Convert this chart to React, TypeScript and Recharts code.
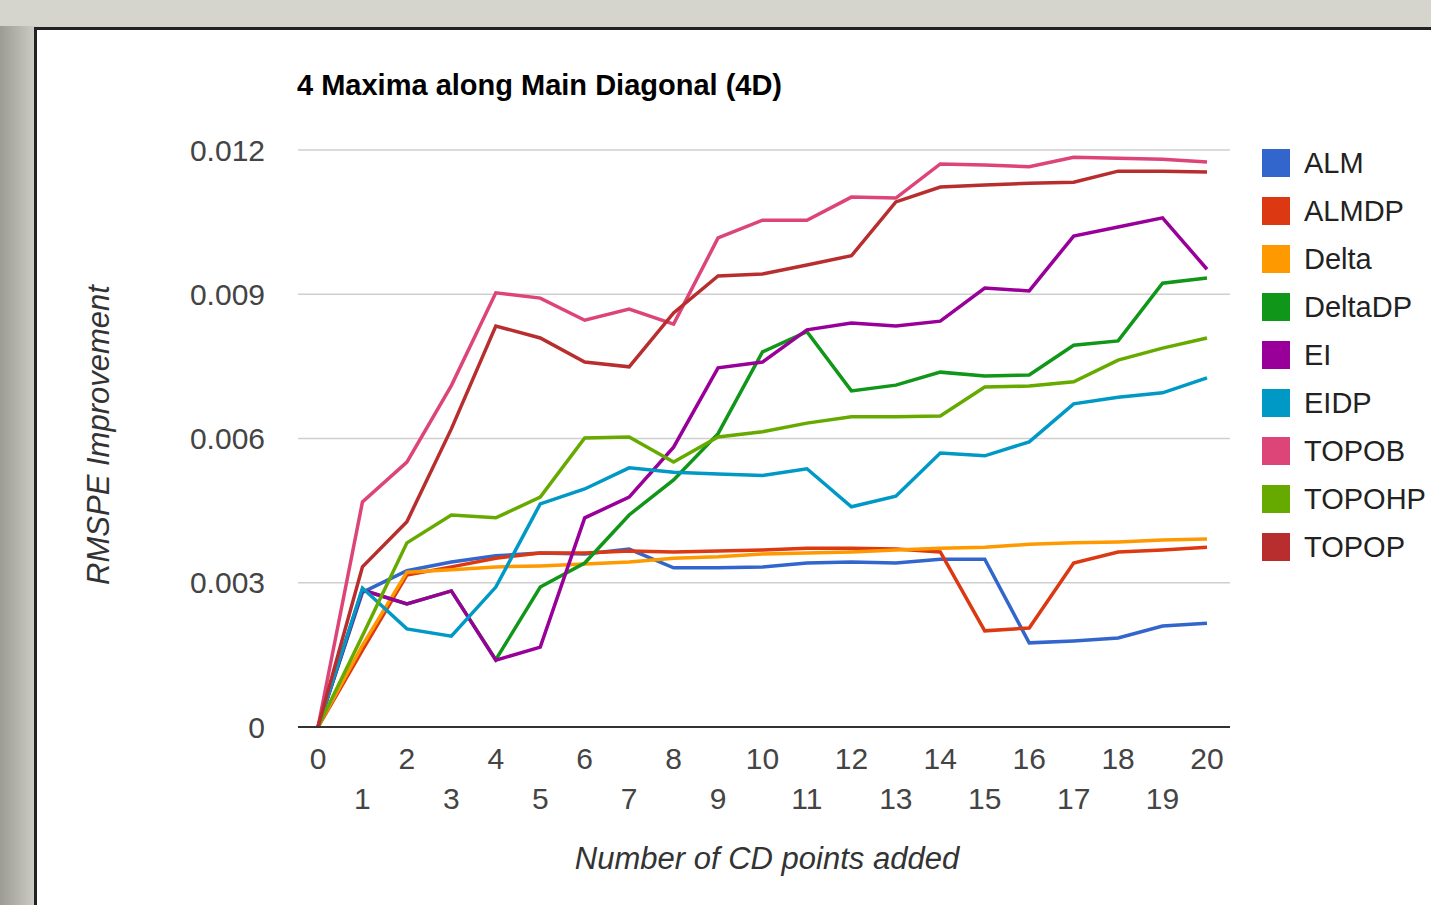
import React from "react";
import { CartesianGrid, Label, Line, LineChart, XAxis, YAxis } from "recharts";

const FONT = '"Liberation Sans", Arial, sans-serif';

const xValues = [0, 1, 2, 3, 4, 5, 6, 7, 8, 9, 10, 11, 12, 13, 14, 15, 16, 17, 18, 19, 20];
const yTicks = [0, 0.003, 0.006, 0.009, 0.012];

const ALM = [0, 0.0028, 0.00325, 0.00343, 0.00356, 0.00362, 0.0036, 0.0037, 0.00331, 0.00331, 0.00333, 0.00341, 0.00343, 0.00341, 0.00349, 0.00349, 0.00175, 0.00179, 0.00185, 0.0021, 0.00216];
const ALMDP = [0, 0.0016, 0.00316, 0.00333, 0.00351, 0.00362, 0.00362, 0.00366, 0.00364, 0.00366, 0.00368, 0.00372, 0.00372, 0.0037, 0.00364, 0.002, 0.00206, 0.00341, 0.00364, 0.00368, 0.00374];
const Delta = [0, 0.0017, 0.00322, 0.00327, 0.00333, 0.00335, 0.00339, 0.00343, 0.00351, 0.00354, 0.0036, 0.00362, 0.00364, 0.00368, 0.00372, 0.00374, 0.0038, 0.00383, 0.00385, 0.00389, 0.00391];
const DeltaDP = [0, 0.00285, 0.00256, 0.00283, 0.0014, 0.00291, 0.00341, 0.00441, 0.00514, 0.0061, 0.0078, 0.00822, 0.00699, 0.00711, 0.00738, 0.0073, 0.00732, 0.00794, 0.00803, 0.00923, 0.00934];
const EI = [0, 0.00285, 0.00256, 0.00283, 0.00139, 0.00166, 0.00435, 0.00478, 0.00582, 0.00747, 0.00759, 0.00826, 0.0084, 0.00834, 0.00844, 0.00913, 0.00907, 0.01021, 0.0104, 0.01059, 0.00952];
const EIDP = [0, 0.00289, 0.00204, 0.00189, 0.00291, 0.00464, 0.00495, 0.00539, 0.0053, 0.00526, 0.00523, 0.00537, 0.00458, 0.0048, 0.0057, 0.00564, 0.00593, 0.00672, 0.00686, 0.00695, 0.00726];
const TOPOB = [0, 0.00468, 0.00551, 0.0071, 0.00903, 0.00892, 0.00846, 0.00869, 0.00838, 0.01017, 0.01054, 0.01054, 0.01102, 0.011, 0.01171, 0.01169, 0.01165, 0.01185, 0.01183, 0.01181, 0.01175];
const TOPOHP = [0, 0.0019, 0.00383, 0.00441, 0.00435, 0.00478, 0.00601, 0.00603, 0.00551, 0.00603, 0.00614, 0.00632, 0.00645, 0.00645, 0.00647, 0.00707, 0.00709, 0.00718, 0.00763, 0.00788, 0.00809];
const TOPOP = [0, 0.00333, 0.00427, 0.0062, 0.00834, 0.00809, 0.00759, 0.00749, 0.00861, 0.00938, 0.00942, 0.00961, 0.0098, 0.01092, 0.01123, 0.01127, 0.01131, 0.01133, 0.01156, 0.01156, 0.01154];

const series = [
  { name: "ALM", values: ALM, color: "#3366cc" },
  { name: "ALMDP", values: ALMDP, color: "#dc3912" },
  { name: "Delta", values: Delta, color: "#ff9900" },
  { name: "DeltaDP", values: DeltaDP, color: "#109618" },
  { name: "EI", values: EI, color: "#990099" },
  { name: "EIDP", values: EIDP, color: "#0099c6" },
  { name: "TOPOB", values: TOPOB, color: "#dd4477" },
  { name: "TOPOHP", values: TOPOHP, color: "#66aa00" },
  { name: "TOPOP", values: TOPOP, color: "#b82e2e" },
];

const data = xValues.map((x, i) => {
  const row: Record<string, number> = { x };
  series.forEach((s) => (row[s.name] = s.values[i]));
  return row;
});

function XTick({ x, y, payload }: any) {
  const even = payload.value % 2 === 0;
  return (
    <text
      x={x}
      y={y + (even ? 31 : 71)}
      textAnchor="middle"
      dominantBaseline="central"
      fontFamily={FONT}
      fontSize={30}
      fill="#444"
    >
      {payload.value}
    </text>
  );
}

export default function App() {
  return (
    <div
      style={{
        position: "absolute",
        left: 0,
        top: 0,
        width: 1431,
        height: 905,
        overflow: "hidden",
        background: "linear-gradient(90deg, #9c9c94 0px, #b4b4ac 18px, #c8c8c0 32px, #d5d5cd 40px)",
        fontFamily: FONT,
      }}
    >
      <div style={{ position: "absolute", left: 0, top: 0, width: 1431, height: 26, background: "#d5d5cd" }} />
      <div
        style={{
          position: "absolute",
          left: 34,
          top: 27,
          width: 1420,
          height: 900,
          background: "#fff",
          borderTop: "3px solid #222",
          borderLeft: "3px solid #222",
        }}
      />
      <div
        style={{
          position: "absolute",
          left: 297,
          top: 69,
          fontSize: 29,
          lineHeight: "32px",
          fontWeight: "bold",
          color: "#000",
        }}
      >
        4 Maxima along Main Diagonal (4D)
      </div>
      <div style={{ position: "absolute", left: 0, top: 0 }}>
        <LineChart
          width={1431}
          height={905}
          data={data}
          margin={{ top: 150, right: 201, bottom: 78, left: 198 }}
        >
          <CartesianGrid horizontal vertical={false} stroke="#cfcfcf" strokeWidth={1.5} />
          <XAxis
            dataKey="x"
            type="number"
            domain={[0, 20]}
            ticks={xValues}
            interval={0}
            padding={{ left: 20, right: 23 }}
            height={100}
            tickLine={false}
            tickSize={0}
            tickMargin={0}
            axisLine={{ stroke: "#333", strokeWidth: 2 }}
            tick={<XTick />}
          >
            <Label
              content={() => (
                <text
                  x={767}
                  y={858}
                  textAnchor="middle"
                  dominantBaseline="central"
                  fontFamily={FONT}
                  fontSize={31}
                  fontStyle="italic"
                  fill="#333"
                >
                  Number of CD points added
                </text>
              )}
            />
          </XAxis>
          <YAxis
            type="number"
            domain={[0, 0.012]}
            ticks={yTicks}
            width={100}
            axisLine={false}
            tickLine={false}
            tickSize={0}
            tickMargin={33}
            tickFormatter={(v: number) => (v === 0 ? "0" : v.toFixed(3))}
            tick={{ fontFamily: FONT, fontSize: 30, fill: "#444" }}
          >
            <Label
              content={() => (
                <text
                  x={98}
                  y={435}
                  transform="rotate(-90 98 435)"
                  textAnchor="middle"
                  dominantBaseline="central"
                  fontFamily={FONT}
                  fontSize={31}
                  fontStyle="italic"
                  fill="#333"
                >
                  RMSPE Improvement
                </text>
              )}
            />
          </YAxis>
          {series.map((s) => (
            <Line
              key={s.name}
              type="linear"
              dataKey={s.name}
              stroke={s.color}
              strokeWidth={3.5}
              dot={false}
              activeDot={false}
              isAnimationActive={false}
            />
          ))}
        </LineChart>
      </div>
      <div style={{ position: "absolute", left: 1262, top: 149 }}>
        {series.map((s) => (
          <div key={s.name} style={{ display: "flex", alignItems: "center", height: 48 }}>
            <div style={{ width: 28, height: 28, background: s.color, marginTop: -20 }} />
            <span style={{ marginLeft: 14, fontSize: 29, color: "#222", marginTop: -20 }}>{s.name}</span>
          </div>
        ))}
      </div>
    </div>
  );
}
